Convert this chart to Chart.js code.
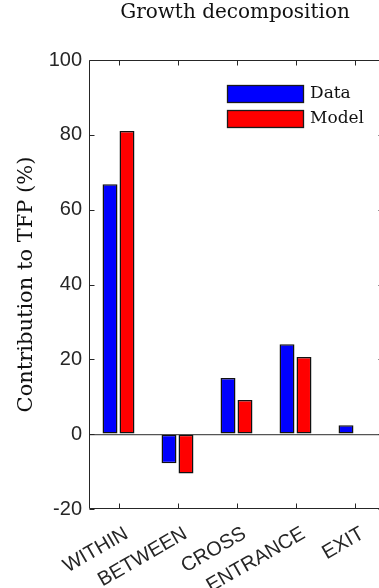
<!DOCTYPE html>
<html><head><meta charset="utf-8">
<script src="https://cdn.jsdelivr.net/npm/chart.js@4.4.1/dist/chart.umd.min.js"></script>
<style>html,body{margin:0;padding:0;background:#fff;overflow:hidden;width:379px;height:588px}canvas{display:block}</style>
</head><body>
<canvas id="c" width="470" height="588" style="width:470px;height:588px"></canvas>
<script>
const categories = ['WITHIN', 'BETWEEN', 'CROSS', 'ENTRANCE', 'EXIT'];
const dataValues = [66.8, -7.8, 15.0, 24.0, 2.4];
const modelValues = [81.0, -10.5, 9.1, 20.6, 0.2];
const yTickValues = [-20, 0, 20, 40, 60, 80, 100];
const seriesLabels = ['Data', 'Model'];
const titleText = 'Growth decomposition';
const yAxisTitle = 'Contribution to TFP (%)';

const AX = '#262626';

const framePlugin = {
  id: 'frame',
  afterDatasetsDraw(chart) {
    const {ctx, chartArea: a, scales: {x, y}} = chart;
    ctx.save();
    ctx.strokeStyle = AX; ctx.lineWidth = 1;
    const L = Math.round(a.left) + 0.5, R = Math.round(a.right) - 0.5;
    const T = Math.round(a.top) + 0.5, B = Math.round(a.bottom) - 0.5;
    ctx.beginPath();
    ctx.rect(L, T, R - L, B - T);
    y.ticks.forEach(t => {
      const py = Math.round(y.getPixelForValue(t.value)) + 0.5;
      ctx.moveTo(L, py); ctx.lineTo(L + 5, py);
      ctx.moveTo(R, py); ctx.lineTo(R - 5, py);
    });
    x.ticks.forEach((t, i) => {
      const px = Math.round(x.getPixelForTick(i)) + 0.5;
      ctx.moveTo(px, B); ctx.lineTo(px, B - 5);
      ctx.moveTo(px, T); ctx.lineTo(px, T + 5);
    });
    ctx.stroke();
    // legend inside the axes
    const ds = chart.data.datasets;
    ctx.font = '17px "DejaVu Serif"';
    ctx.textBaseline = 'middle';
    ctx.textAlign = 'left';
    ds.forEach((d, i) => {
      const bx = Math.round(a.left) + 138, by = Math.round(a.top) + 25 + i * 25;
      ctx.fillStyle = d.backgroundColor;
      ctx.fillRect(bx, by, 77, 18);
      ctx.strokeStyle = '#1a1a1a';
      ctx.lineWidth = 1.3;
      ctx.strokeRect(bx + 0.5, by + 0.5, 76, 17);
      ctx.fillStyle = '#111';
      ctx.fillText(d.label, bx + 83, by + 9);
    });
    ctx.restore();
  }
};

new Chart(document.getElementById('c'), {
  type: 'bar',
  data: {
    labels: categories,
    datasets: [
      {label: seriesLabels[0], data: dataValues, backgroundColor: '#0000ff', borderColor: '#111111', borderWidth: 1.5,
       borderSkipped: false, categoryPercentage: 0.576, barPercentage: 0.88},
      {label: seriesLabels[1], data: modelValues, backgroundColor: '#ff0000', borderColor: '#111111', borderWidth: 1.5,
       borderSkipped: false, categoryPercentage: 0.576, barPercentage: 0.88}
    ]
  },
  options: {
    responsive: false,
    animation: false,
    devicePixelRatio: 1,
    layout: {padding: 0},
    plugins: {
      legend: {display: false},
      tooltip: {enabled: false},
      title: {
        display: true, text: titleText, color: '#111',
        font: {family: '"DejaVu Serif"', size: 20, weight: 'normal', lineHeight: 1.2},
        padding: {top: 1, bottom: 35}
      }
    },
    scales: {
      x: {
        grid: {display: false},
        border: {display: false},
        ticks: {color: AX, font: {family: '"Liberation Sans"', size: 20}, minRotation: 30, maxRotation: 30, autoSkip: false, padding: 5, labelOffset: 8},
        afterFit: s => { s.height = 79; }
      },
      y: {
        min: -20, max: 100,
        afterBuildTicks: s => { s.ticks = yTickValues.map(v => ({value: v})); },
        grid: {drawTicks: false, color: c => (c.tick && c.tick.value === 0) ? '#555555' : 'rgba(0,0,0,0)', lineWidth: 1.3},
        border: {display: false},
        ticks: {color: AX, font: {family: '"Liberation Sans"', size: 20}, padding: 7},
        title: {display: true, text: yAxisTitle, color: '#111', font: {family: '"DejaVu Serif"', size: 21}, padding: {top: 14, bottom: 0}},
        afterFit: s => { s.width = 89; }
      },
      yR: {
        position: 'right', display: true, min: 0, max: 1,
        grid: {display: false}, border: {display: false}, ticks: {display: false},
        afterFit: s => { s.width = 86; }
      }
    }
  },
  plugins: [framePlugin]
});
</script>
</body></html>
